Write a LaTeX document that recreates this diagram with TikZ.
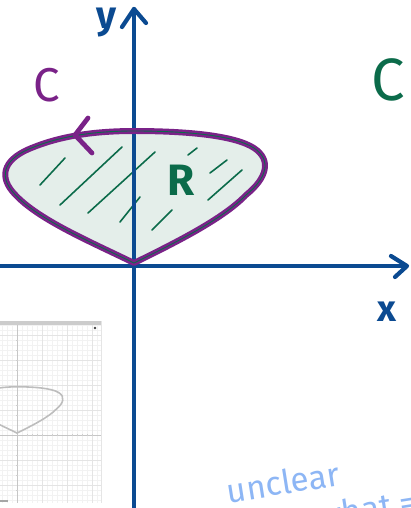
\documentclass[tikz,border=0pt]{standalone}
\usepackage{fontspec}
\setsansfont{Fira Sans}
\definecolor{axisblue}{HTML}{0B4A91}
\definecolor{cpurple}{HTML}{7A2288}
\definecolor{cgreen}{HTML}{0B6B4A}
\definecolor{rfill}{HTML}{E4EEEA}
\definecolor{hand}{HTML}{8DB6F5}
\definecolor{gridminor}{HTML}{F2F2F2}
\definecolor{gridmajor}{HTML}{E4E4E4}
\definecolor{insetcurve}{HTML}{BDBDBD}
\tikzset{
  axisline/.style={axisblue, line width=2.4pt, line cap=round, line join=round},
  outline/.style={cpurple, line width=3.4pt, line join=round},
  hatch/.style={cgreen, line width=0.9pt, line cap=round},
  lbl/.style={font=\sffamily, inner sep=0pt},
}
\newcommand{\shapepath}{(0,0) .. controls (-45,-22) and (-100,-45) .. (-122,-72)
  .. controls (-135,-88) and (-130,-105) .. (-100,-116)
  .. controls (-70,-128) and (-35,-132) .. (0,-132)
  .. controls (50,-132) and (100,-128) .. (120,-115)
  .. controls (138,-103) and (133,-85) .. (112,-68)
  .. controls (90,-45) and (45,-22) .. (0,0) -- cycle}
\begin{document}
\begin{tikzpicture}[x={(0.02cm,0)}, y={(0,-0.02cm)}]
\clip (0,0) rectangle (410,508);
\fill[white] (0,0) rectangle (410,508);

% inset screenshot
\begin{scope}
  \fill[white] (0,321) rectangle (101,503);
  \clip (0,321) rectangle (101,503);
  \foreach \gx in {2,7,...,100} \draw[gridminor, line width=0.3pt] (\gx,321) -- (\gx,503);
  \foreach \gy in {325,330,...,503} \draw[gridminor, line width=0.3pt] (0,\gy) -- (101,\gy);
  \foreach \gx in {-8,17,42,67,92} \draw[gridmajor, line width=0.4pt] (\gx,321) -- (\gx,503);
  \foreach \gy in {335,360,385,410,435,460,485} \draw[gridmajor, line width=0.4pt] (0,\gy) -- (101,\gy);
  \draw[gridmajor!70!gray, line width=0.5pt] (17,321) -- (17,503);
  \draw[gridmajor!70!gray, line width=0.5pt] (0,435) -- (101,435);
  \foreach \gx in {27,32,37,42,52,57,72,77,82,87,92} \draw[gridmajor!80!gray, line width=0.4pt] (\gx,434) -- (\gx,436);
  \foreach \gy in {340,350,360,370,380,395,405,415,445,455,465,475,490} \draw[gridmajor!80!gray, line width=0.4pt] (16,\gy) -- (18,\gy);
  \begin{scope}[shift={(17,433)}, scale=0.35]
    \draw[insetcurve, line width=0.9pt] \shapepath;
  \end{scope}
  \fill[gray!40] (0,321) rectangle (101,325);
  \fill[black!75] (95,328) circle (1.3);
  \fill[gray!70] (0,500) rectangle (8,502);
\end{scope}
\draw[gray!20, line width=0.4pt] (101,321) -- (101,503);

% region R
\begin{scope}[shift={(134,263)}]
  \fill[rfill] \shapepath;
\end{scope}
\draw[hatch] (40,185) -- (65,158);
\draw[hatch] (60,205) -- (122,147);
\draw[hatch] (88,213) -- (155,152);
\draw[hatch] (120,222) -- (140,197);
\draw[hatch] (152,230) -- (172,210);
\draw[hatch] (188,155) -- (197,148);
\draw[hatch] (210,173) -- (227,160);
\draw[hatch] (208,200) -- (242,170);

% axes
\draw[axisline] (134,510) -- (134,9);
\draw[axisline] (122,27) -- (134,9) -- (146,23);
\draw[axisline] (-2,266) -- (406,266);
\draw[axisline] (391,256) -- (407,266) -- (395,277);

% outline of C
\begin{scope}[shift={(134,263)}]
  \draw[outline] \shapepath;
  \draw[cgreen, line width=0.5pt] \shapepath;
\end{scope}
\draw[cpurple, line width=2.7pt, line cap=round, line join=round] (88,118) -- (75,135) -- (92,153);

% labels
\node[lbl, axisblue, font=\sffamily\bfseries\fontsize{22}{22}\selectfont] (ylab) at (107,23) {y};
\node[lbl, axisblue, font=\sffamily\bfseries\fontsize{21}{21}\selectfont] (xlab) at (387,312) {x};
\node[lbl, cpurple, font=\sffamily\fontsize{27}{27}\selectfont] (cleft) at (47,85) {C};
\node[lbl, cgreen, font=\sffamily\fontsize{34}{34}\selectfont, anchor=west] (cright) at (371,80) {C};
\node[lbl, cgreen, font=\sffamily\bfseries\fontsize{25}{25}\selectfont] (rlab) at (181,180) {R};
\node[lbl, hand, font=\sffamily\fontsize{19}{19}\selectfont, rotate=9] (unclear) at (283,482) {unclear};
\node[lbl, hand, font=\sffamily\fontsize{19}{19}\selectfont, rotate=9, anchor=west] (what) at (318,516) {what =};
\end{tikzpicture}
\end{document}
